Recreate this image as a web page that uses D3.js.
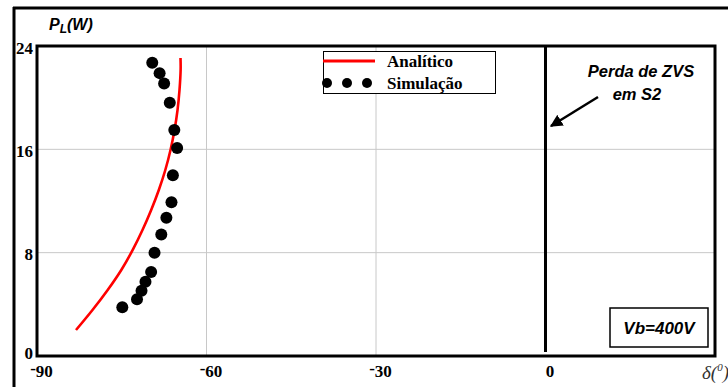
<!DOCTYPE html>
<html><head><meta charset="utf-8">
<script src="https://cdn.jsdelivr.net/npm/d3@7"></script>
<style>body{margin:0;background:#fff}svg{display:block}</style>
</head><body>
<svg id="c" width="728" height="387"></svg>
<script>
// Data
const xTicks = [-90, -60, -30, 0];
const yTicks = [0, 8, 16, 24];
const analyticX = [-83.10, -80.18, -77.49, -75.08, -73.06, -71.33, -69.79, -68.44, -67.29, -66.37, -65.66, -65.13, -64.78, -64.58, -64.60];
const analyticY = [2.01, 3.56, 5.11, 6.66, 8.21, 9.75, 11.30, 12.85, 14.40, 15.95, 17.50, 19.04, 20.59, 22.14, 23.07];
const simX = [-69.6, -68.3, -67.5, -66.5, -65.7, -65.2, -65.95, -66.2, -67.1, -68.0, -69.2, -69.8, -70.8, -71.5, -72.3, -74.9];
const simY = [22.7, 21.9, 21.1, 19.6, 17.5, 16.1, 14.0, 11.9, 10.7, 9.4, 8.0, 6.5, 5.75, 5.05, 4.4, 3.77];
const legendLabels = ["Analítico", "Simulação"];

const svg = d3.select("#c");
const x = d3.scaleLinear().domain([-90, 30]).range([37, 715]);
const y = d3.scaleLinear().domain([0, 24]).range([356, 46]);

// outer frame
svg.append("line").attr("x1", 14).attr("x2", 14).attr("y1", 7).attr("y2", 387).attr("stroke", "#000").attr("stroke-width", 3);
svg.append("line").attr("x1", 13).attr("x2", 728).attr("y1", 8).attr("y2", 8).attr("stroke", "#000").attr("stroke-width", 3);

// grid
const g = svg.append("g");
g.selectAll(".gx").data(xTicks.filter(d => d !== -90 && d !== 0)).enter().append("line")
  .attr("x1", d => x(d)).attr("x2", d => x(d)).attr("y1", y(24)).attr("y2", y(0))
  .attr("stroke", "#c8c8c8").attr("stroke-width", 1);
g.selectAll(".gy").data(yTicks.filter(d => d !== 0 && d !== 24)).enter().append("line")
  .attr("x1", x(-90)).attr("x2", x(30)).attr("y1", d => y(d)).attr("y2", d => y(d))
  .attr("stroke", "#c8c8c8").attr("stroke-width", 1);

// ZVS boundary line at 0
svg.append("line").attr("x1", x(0)).attr("x2", x(0)).attr("y1", y(24)).attr("y2", y(0) - 4)
  .attr("stroke", "#000").attr("stroke-width", 3);

// plot frame
svg.append("rect").attr("x", x(-90)).attr("y", y(24)).attr("width", x(30) - x(-90)).attr("height", y(0) - y(24))
  .attr("fill", "none").attr("stroke", "#000").attr("stroke-width", 3);

// axes (labels only)
const xAxis = svg.append("g").attr("transform", `translate(0,${y(0)})`)
  .call(d3.axisBottom(x).tickValues(xTicks).tickSize(0).tickPadding(0));
xAxis.select(".domain").remove();
xAxis.selectAll("text").each(function(d) {
  const t = d3.select(this);
  t.text(null).attr("y", 21).attr("dy", 0).attr("x", 4)
    .attr("font-family", "Liberation Serif, Times New Roman, serif").attr("font-weight", "bold")
    .attr("font-size", 17).attr("fill", "#000").attr("text-anchor", "middle");
  if (d < 0) {
    t.append("tspan").text("-").attr("dy", -3);
    t.append("tspan").text(String(Math.abs(d))).attr("dy", 3);
  } else {
    t.append("tspan").text(String(d));
  }
});

const yAxis = svg.append("g").attr("transform", `translate(${x(-90)},0)`)
  .call(d3.axisLeft(y).tickValues(yTicks).tickSize(0).tickPadding(4).tickFormat(d3.format("d")));
yAxis.select(".domain").remove();
yAxis.selectAll("text").attr("dy", 0).attr("y", d => d === 0 ? 2 : 7)
  .attr("font-family", "Liberation Serif, Times New Roman, serif").attr("font-weight", "bold")
  .attr("font-size", 17).attr("fill", "#000");

// y title
const yt = svg.append("text").attr("x", 49).attr("y", 30)
  .attr("font-family", "Liberation Sans, Arial, sans-serif").attr("font-weight", "bold").attr("font-style", "italic")
  .attr("font-size", 16);
yt.append("tspan").text("P");
yt.append("tspan").text("L").attr("font-size", 12).attr("dy", 3);
yt.append("tspan").text("(W)").attr("dy", -3);

// x title
const xt = svg.append("text").attr("x", 702).attr("y", 379)
  .attr("font-family", "Liberation Serif, Times New Roman, serif").attr("font-style", "italic")
  .attr("font-size", 19).attr("fill", "#333");
xt.append("tspan").text("δ(");
xt.append("tspan").text("0").attr("font-size", 11).attr("dy", -8);
xt.append("tspan").text(")").attr("dy", 8);

// analytic curve
const pts = analyticX.map((v, i) => [v, analyticY[i]]);
svg.append("path").datum(pts)
  .attr("d", d3.line().x(d => x(d[0])).y(d => y(d[1])).curve(d3.curveCatmullRom))
  .attr("fill", "none").attr("stroke", "#ff0000").attr("stroke-width", 2.6);

// simulation dots
svg.selectAll(".dot").data(simX.map((v, i) => [v, simY[i]])).enter().append("circle")
  .attr("cx", d => x(d[0])).attr("cy", d => y(d[1])).attr("r", 6).attr("fill", "#000");

// legend
const lg = svg.append("g");
lg.append("rect").attr("x", 323.5).attr("y", 51.5).attr("width", 172).attr("height", 42)
  .attr("fill", "#fff").attr("stroke", "#000").attr("stroke-width", 1);
lg.append("line").attr("x1", 323).attr("x2", 375).attr("y1", 61).attr("y2", 61).attr("stroke", "#ff0000").attr("stroke-width", 3);
[327, 347, 367].forEach(cx => lg.append("circle").attr("cx", cx).attr("cy", 83).attr("r", 5).attr("fill", "#000"));
lg.selectAll("text").data(legendLabels).enter().append("text")
  .attr("x", 387).attr("y", (d, i) => 67 + i * 22).text(d => d)
  .attr("font-family", "Liberation Serif, Times New Roman, serif").attr("font-weight", "bold").attr("font-size", 17);

// annotation
const ann = svg.append("text").attr("font-family", "Liberation Sans, Arial, sans-serif")
  .attr("font-weight", "bold").attr("font-style", "italic").attr("font-size", 16.5).attr("text-anchor", "middle");
ann.append("tspan").attr("x", 641).attr("y", 77).text("Perda de ZVS");
ann.append("tspan").attr("x", 637).attr("y", 100).text("em S2");
svg.append("defs").append("marker").attr("id", "ah").attr("viewBox", "0 0 10 10").attr("refX", 9).attr("refY", 5)
  .attr("markerWidth", 5).attr("markerHeight", 5).attr("orient", "auto")
  .append("path").attr("d", "M0,0 L10,5 L0,10 Z").attr("fill", "#000");
svg.append("line").attr("x1", 598).attr("y1", 97).attr("x2", 551).attr("y2", 126)
  .attr("stroke", "#000").attr("stroke-width", 2.5).attr("marker-end", "url(#ah)");

// Vb box
svg.append("rect").attr("x", 610).attr("y", 308).attr("width", 98).attr("height", 39)
  .attr("fill", "#fff").attr("stroke", "#000").attr("stroke-width", 1.5);
svg.append("text").attr("x", 659).attr("y", 334).attr("text-anchor", "middle")
  .attr("font-family", "Liberation Sans, Arial, sans-serif").attr("font-weight", "bold").attr("font-style", "italic")
  .attr("font-size", 17).text("Vb=400V");
</script>
</body></html>
